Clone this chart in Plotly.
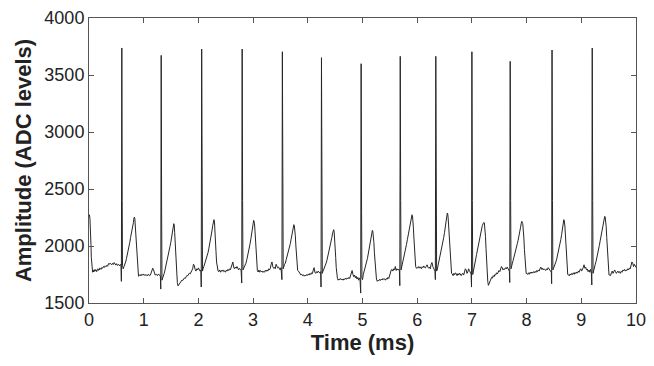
import plotly.graph_objects as go

# ECG-like trace: (time in ms, amplitude in ADC levels)
seg_00 = [(0.000, 2255), (0.006, 2274), (0.012, 2260), (0.018, 2235), (0.024, 2190), (0.030, 2120),
          (0.036, 2010), (0.042, 1900), (0.050, 1815), (0.058, 1778), (0.066, 1770), (0.074, 1785),
          (0.082, 1772), (0.090, 1790), (0.100, 1778), (0.110, 1795), (0.120, 1780), (0.130, 1788),
          (0.140, 1775), (0.150, 1792), (0.160, 1800), (0.170, 1786), (0.180, 1798), (0.190, 1790),
          (0.200, 1808), (0.210, 1800), (0.220, 1795), (0.235, 1812), (0.250, 1805), (0.265, 1820),
          (0.280, 1812), (0.295, 1826), (0.310, 1818), (0.325, 1830), (0.340, 1822), (0.355, 1845),
          (0.370, 1838), (0.385, 1850), (0.400, 1842), (0.415, 1835), (0.430, 1848), (0.445, 1838),
          (0.460, 1855), (0.475, 1842), (0.490, 1832), (0.505, 1845), (0.520, 1830), (0.540, 1838),
          (0.560, 1825), (0.575, 1840), (0.585, 1835)]
seg_01 = [(0.592, 1690), (0.600, 3737), (0.607, 2400), (0.612, 1830), (0.625, 1800), (0.640, 1820),
          (0.655, 1835), (0.670, 1860), (0.685, 1890), (0.700, 1920), (0.715, 1950), (0.730, 1990),
          (0.745, 2030), (0.760, 2075), (0.775, 2110), (0.790, 2135), (0.800, 2172), (0.812, 2205),
          (0.822, 2245), (0.830, 2254), (0.838, 2240), (0.846, 2170), (0.855, 2080), (0.865, 1980),
          (0.875, 1890), (0.885, 1810), (0.895, 1760), (0.905, 1735), (0.920, 1740), (0.935, 1750),
          (0.950, 1738), (0.965, 1752), (0.980, 1745), (0.995, 1755), (1.010, 1742), (1.025, 1750),
          (1.040, 1740), (1.055, 1748), (1.070, 1738), (1.085, 1752), (1.100, 1745), (1.115, 1740),
          (1.130, 1755), (1.150, 1780), (1.165, 1805), (1.180, 1790), (1.195, 1750), (1.210, 1745),
          (1.230, 1752), (1.250, 1740), (1.270, 1755), (1.290, 1748), (1.305, 1735)]
seg_02 = [(1.312, 1622), (1.320, 3672), (1.328, 2300), (1.334, 1700), (1.345, 1712), (1.360, 1735),
          (1.375, 1760), (1.390, 1790), (1.405, 1820), (1.420, 1850), (1.435, 1880), (1.450, 1915),
          (1.465, 1955), (1.480, 1995), (1.495, 2030), (1.510, 2070), (1.525, 2110), (1.540, 2170),
          (1.550, 2196), (1.558, 2185), (1.566, 2120), (1.575, 2030), (1.585, 1920), (1.595, 1810),
          (1.605, 1730), (1.615, 1680), (1.628, 1650), (1.640, 1660), (1.655, 1672), (1.670, 1680),
          (1.685, 1690), (1.700, 1702), (1.715, 1698), (1.730, 1712), (1.745, 1720), (1.760, 1715),
          (1.775, 1730), (1.790, 1742), (1.805, 1738), (1.820, 1750), (1.835, 1762), (1.850, 1755),
          (1.865, 1770), (1.880, 1790), (1.895, 1800), (1.910, 1840), (1.925, 1830), (1.940, 1795),
          (1.955, 1780), (1.970, 1800), (1.985, 1790), (2.000, 1808), (2.015, 1795), (2.030, 1780),
          (2.045, 1790)]
seg_03 = [(2.052, 1640), (2.060, 3728), (2.068, 2400), (2.075, 1780), (2.085, 1800), (2.100, 1820),
          (2.115, 1845), (2.130, 1850), (2.145, 1885), (2.160, 1915), (2.175, 1940), (2.190, 1975),
          (2.205, 2010), (2.220, 2055), (2.235, 2100), (2.250, 2140), (2.262, 2180), (2.274, 2218),
          (2.285, 2231), (2.294, 2210), (2.303, 2150), (2.312, 2060), (2.322, 1950), (2.332, 1860),
          (2.345, 1795), (2.360, 1780), (2.375, 1775), (2.390, 1790), (2.405, 1770), (2.420, 1785),
          (2.435, 1778), (2.450, 1790), (2.465, 1775), (2.480, 1782), (2.495, 1770), (2.510, 1788),
          (2.525, 1780), (2.540, 1795), (2.555, 1785), (2.570, 1800), (2.585, 1792), (2.600, 1810),
          (2.615, 1842), (2.630, 1860), (2.645, 1815), (2.660, 1800), (2.675, 1815), (2.690, 1805),
          (2.705, 1820), (2.720, 1800), (2.735, 1790), (2.750, 1805), (2.765, 1795), (2.780, 1790)]
seg_04 = [(2.792, 1675), (2.800, 3728), (2.808, 2400), (2.815, 1790), (2.825, 1800), (2.840, 1815),
          (2.855, 1840), (2.870, 1850), (2.885, 1880), (2.900, 1910), (2.915, 1940), (2.930, 1980),
          (2.945, 2020), (2.960, 2065), (2.975, 2120), (2.990, 2180), (3.000, 2212), (3.010, 2225),
          (3.018, 2215), (3.026, 2195), (3.035, 2130), (3.045, 2030), (3.055, 1930), (3.065, 1840),
          (3.078, 1785), (3.092, 1772), (3.105, 1790), (3.120, 1770), (3.135, 1785), (3.150, 1775),
          (3.165, 1780), (3.180, 1768), (3.195, 1778), (3.210, 1770), (3.225, 1788), (3.240, 1778),
          (3.255, 1790), (3.270, 1780), (3.285, 1800), (3.300, 1790), (3.315, 1805), (3.330, 1840),
          (3.345, 1860), (3.360, 1820), (3.375, 1805), (3.390, 1812), (3.405, 1800), (3.420, 1840),
          (3.435, 1820), (3.450, 1808), (3.465, 1815), (3.480, 1800), (3.495, 1790), (3.510, 1810)]
seg_05 = [(3.527, 1705), (3.535, 3704), (3.543, 2400), (3.550, 1800), (3.560, 1815), (3.575, 1840),
          (3.590, 1850), (3.605, 1880), (3.620, 1905), (3.635, 1930), (3.650, 1960), (3.665, 1990),
          (3.680, 2020), (3.695, 2060), (3.710, 2100), (3.722, 2135), (3.734, 2175), (3.745, 2187),
          (3.753, 2180), (3.762, 2150), (3.772, 2090), (3.782, 2000), (3.792, 1910), (3.802, 1830),
          (3.815, 1785), (3.830, 1780), (3.845, 1770), (3.860, 1760), (3.875, 1745), (3.890, 1752),
          (3.905, 1740), (3.920, 1748), (3.935, 1735), (3.950, 1745), (3.965, 1738), (3.980, 1750),
          (3.995, 1742), (4.010, 1755), (4.025, 1745), (4.040, 1760), (4.055, 1750), (4.070, 1765),
          (4.085, 1758), (4.100, 1790), (4.115, 1810), (4.130, 1770), (4.145, 1760), (4.160, 1775),
          (4.175, 1765), (4.190, 1780), (4.205, 1770), (4.220, 1762), (4.235, 1775)]
seg_06 = [(4.242, 1640), (4.250, 3652), (4.258, 2300), (4.265, 1760), (4.275, 1775), (4.290, 1790),
          (4.305, 1815), (4.320, 1825), (4.335, 1850), (4.350, 1875), (4.365, 1905), (4.380, 1935),
          (4.395, 1965), (4.410, 2000), (4.425, 2035), (4.440, 2075), (4.455, 2115), (4.466, 2138),
          (4.473, 2143), (4.481, 2130), (4.490, 2080), (4.500, 2000), (4.510, 1900), (4.520, 1810),
          (4.530, 1750), (4.542, 1715), (4.555, 1700), (4.570, 1712), (4.585, 1705), (4.600, 1715),
          (4.615, 1702), (4.630, 1710), (4.645, 1700), (4.660, 1712), (4.675, 1706), (4.690, 1718),
          (4.705, 1708), (4.720, 1720), (4.735, 1712), (4.750, 1725), (4.765, 1715), (4.780, 1740),
          (4.795, 1770), (4.810, 1785), (4.825, 1750), (4.840, 1730), (4.855, 1745), (4.870, 1720),
          (4.885, 1735), (4.900, 1710), (4.915, 1725), (4.930, 1700), (4.945, 1720), (4.955, 1705)]
seg_07 = [(4.967, 1587), (4.975, 3599), (4.983, 2300), (4.990, 1720), (5.000, 1705), (5.015, 1750),
          (5.030, 1775), (5.045, 1800), (5.060, 1830), (5.075, 1850), (5.090, 1890), (5.105, 1930),
          (5.120, 1980), (5.135, 2020), (5.150, 2070), (5.162, 2110), (5.172, 2122), (5.180, 2137),
          (5.188, 2132), (5.198, 2095), (5.208, 2030), (5.218, 1940), (5.230, 1840), (5.242, 1760),
          (5.255, 1710), (5.270, 1690), (5.285, 1700), (5.300, 1695), (5.315, 1708), (5.330, 1698),
          (5.345, 1710), (5.360, 1702), (5.375, 1715), (5.390, 1705), (5.405, 1712), (5.420, 1700),
          (5.435, 1715), (5.450, 1708), (5.465, 1725), (5.480, 1715), (5.495, 1745), (5.510, 1780),
          (5.525, 1790), (5.540, 1795), (5.555, 1780), (5.570, 1800), (5.585, 1790), (5.600, 1820),
          (5.615, 1785), (5.630, 1800), (5.645, 1790), (5.660, 1798), (5.675, 1780)]
seg_08 = [(5.682, 1652), (5.690, 3664), (5.698, 2400), (5.705, 1790), (5.715, 1810), (5.730, 1845),
          (5.745, 1870), (5.760, 1900), (5.775, 1935), (5.790, 1975), (5.805, 2015), (5.820, 2055),
          (5.835, 2095), (5.850, 2135), (5.865, 2180), (5.880, 2225), (5.895, 2260), (5.905, 2274),
          (5.913, 2268), (5.921, 2235), (5.930, 2165), (5.940, 2070), (5.950, 1960), (5.960, 1875),
          (5.972, 1820), (5.985, 1805), (6.000, 1812), (6.015, 1805), (6.030, 1820), (6.045, 1808),
          (6.060, 1815), (6.075, 1800), (6.090, 1818), (6.105, 1810), (6.120, 1825), (6.135, 1812),
          (6.150, 1808), (6.165, 1822), (6.180, 1835), (6.195, 1815), (6.210, 1805), (6.225, 1815),
          (6.240, 1800), (6.255, 1840), (6.270, 1855), (6.285, 1820), (6.300, 1810), (6.315, 1790),
          (6.325, 1780)]
seg_09 = [(6.332, 1705), (6.340, 3664), (6.348, 2300), (6.355, 1780), (6.365, 1790), (6.380, 1825),
          (6.395, 1855), (6.410, 1875), (6.425, 1915), (6.440, 1955), (6.455, 1995), (6.470, 2035),
          (6.485, 2075), (6.500, 2120), (6.515, 2165), (6.528, 2210), (6.540, 2255), (6.550, 2289),
          (6.558, 2282), (6.566, 2245), (6.575, 2180), (6.585, 2085), (6.595, 1980), (6.605, 1880),
          (6.615, 1800), (6.628, 1760), (6.642, 1755), (6.656, 1740), (6.670, 1760), (6.685, 1748),
          (6.700, 1765), (6.715, 1750), (6.730, 1740), (6.745, 1758), (6.760, 1745), (6.775, 1762),
          (6.790, 1750), (6.805, 1740), (6.820, 1755), (6.835, 1760), (6.850, 1745), (6.865, 1770),
          (6.880, 1800), (6.895, 1790), (6.910, 1760), (6.925, 1772), (6.940, 1800), (6.955, 1785),
          (6.970, 1760), (6.985, 1752)]
seg_10 = [(6.993, 1640), (7.000, 3704), (7.008, 2400), (7.015, 1750), (7.025, 1770), (7.040, 1815),
          (7.055, 1850), (7.070, 1885), (7.085, 1925), (7.100, 1965), (7.115, 2005), (7.130, 2050),
          (7.145, 2090), (7.160, 2125), (7.175, 2150), (7.190, 2178), (7.205, 2195), (7.218, 2207),
          (7.228, 2202), (7.238, 2165), (7.248, 2085), (7.258, 1980), (7.268, 1860), (7.278, 1760),
          (7.290, 1690), (7.302, 1655), (7.315, 1672), (7.330, 1690), (7.345, 1710), (7.360, 1725),
          (7.375, 1718), (7.390, 1740), (7.405, 1730), (7.420, 1750), (7.435, 1745), (7.450, 1765),
          (7.465, 1755), (7.480, 1770), (7.495, 1785), (7.510, 1775), (7.525, 1800), (7.540, 1820),
          (7.555, 1810), (7.570, 1790), (7.585, 1800), (7.600, 1795), (7.615, 1810), (7.630, 1800),
          (7.645, 1815), (7.660, 1805), (7.675, 1790), (7.685, 1780)]
seg_11 = [(7.692, 1680), (7.700, 3620), (7.708, 2400), (7.715, 1800), (7.725, 1830), (7.740, 1850),
          (7.755, 1875), (7.770, 1900), (7.785, 1930), (7.800, 1960), (7.815, 1990), (7.830, 2020),
          (7.845, 2050), (7.860, 2080), (7.875, 2120), (7.890, 2165), (7.902, 2200), (7.914, 2216),
          (7.922, 2208), (7.930, 2195), (7.940, 2150), (7.950, 2070), (7.960, 1970), (7.970, 1875),
          (7.980, 1800), (7.992, 1760), (8.005, 1760), (8.020, 1750), (8.035, 1765), (8.050, 1752),
          (8.065, 1770), (8.080, 1760), (8.095, 1772), (8.110, 1762), (8.125, 1775), (8.140, 1765),
          (8.155, 1778), (8.170, 1768), (8.185, 1785), (8.200, 1775), (8.215, 1790), (8.230, 1780),
          (8.245, 1800), (8.260, 1815), (8.275, 1795), (8.290, 1805), (8.305, 1790), (8.320, 1800),
          (8.335, 1792), (8.350, 1785), (8.365, 1800), (8.380, 1790), (8.395, 1810), (8.410, 1800),
          (8.425, 1790), (8.440, 1780), (8.452, 1770)]
seg_12 = [(8.458, 1669), (8.465, 3719), (8.473, 2400), (8.480, 1790), (8.490, 1800), (8.505, 1825),
          (8.520, 1830), (8.535, 1860), (8.550, 1885), (8.565, 1915), (8.580, 1945), (8.595, 1975),
          (8.610, 2015), (8.625, 2055), (8.640, 2100), (8.655, 2145), (8.668, 2190), (8.680, 2231),
          (8.690, 2220), (8.700, 2175), (8.710, 2090), (8.720, 1980), (8.730, 1870), (8.740, 1795),
          (8.752, 1750), (8.765, 1748), (8.780, 1738), (8.795, 1755), (8.810, 1745), (8.825, 1760),
          (8.840, 1750), (8.855, 1765), (8.870, 1752), (8.885, 1768), (8.900, 1758), (8.915, 1772),
          (8.930, 1762), (8.945, 1780), (8.960, 1770), (8.975, 1790), (8.990, 1800), (9.005, 1780),
          (9.020, 1790), (9.035, 1810), (9.050, 1835), (9.065, 1805), (9.080, 1815), (9.095, 1790),
          (9.110, 1798), (9.125, 1775), (9.140, 1790), (9.155, 1770), (9.170, 1795), (9.185, 1760)]
seg_13 = [(9.192, 1658), (9.200, 3737), (9.208, 2400), (9.215, 1760), (9.225, 1790), (9.240, 1815),
          (9.255, 1840), (9.270, 1865), (9.285, 1895), (9.300, 1925), (9.315, 1965), (9.330, 2005),
          (9.345, 2045), (9.360, 2085), (9.375, 2125), (9.390, 2170), (9.405, 2215), (9.418, 2245),
          (9.428, 2260), (9.436, 2256), (9.445, 2230), (9.455, 2170), (9.465, 2075), (9.475, 1960),
          (9.485, 1860), (9.495, 1790), (9.507, 1745), (9.520, 1745), (9.535, 1740), (9.550, 1765),
          (9.565, 1780), (9.580, 1760), (9.595, 1770), (9.610, 1790), (9.625, 1775), (9.640, 1760),
          (9.655, 1772), (9.670, 1780), (9.685, 1765), (9.700, 1775), (9.715, 1760), (9.730, 1778),
          (9.745, 1770), (9.760, 1790), (9.775, 1782), (9.790, 1795), (9.805, 1780), (9.820, 1790),
          (9.835, 1785), (9.850, 1800), (9.865, 1790), (9.880, 1808), (9.895, 1800), (9.910, 1835),
          (9.925, 1860), (9.940, 1850), (9.955, 1820), (9.970, 1840), (9.985, 1815), (10.000, 1812)]

segments = [seg_00, seg_01, seg_02, seg_03, seg_04, seg_05, seg_06,
            seg_07, seg_08, seg_09, seg_10, seg_11, seg_12, seg_13]

time_ms = [t for seg in segments for t, _ in seg]
amplitude = [v for seg in segments for _, v in seg]

x_ticks = [0, 1, 2, 3, 4, 5, 6, 7, 8, 9, 10]
y_ticks = [1500, 2000, 2500, 3000, 3500, 4000]

fig = go.Figure()
fig.add_trace(go.Scatter(
    x=time_ms, y=amplitude, mode="lines",
    line=dict(color="#262626", width=1),
    showlegend=False, hoverinfo="x+y",
))

axis_common = dict(
    showgrid=False, zeroline=False,
    showline=True, linecolor="#555555", linewidth=1,
    mirror="ticks", ticks="inside", ticklen=5, tickwidth=1, tickcolor="#555555",
    tickfont=dict(family="Liberation Sans, Arial, sans-serif", size=18, color="#222222"),
)

fig.update_xaxes(
    range=[0, 10], tickmode="array", tickvals=x_ticks,
    title=dict(text="<b>Time (ms)</b>", standoff=6,
               font=dict(family="Liberation Sans, Arial, sans-serif", size=22, color="#222222")),
    **axis_common,
)
fig.update_yaxes(
    range=[1500, 4000], tickmode="array", tickvals=y_ticks,
    title=dict(text="<b>Amplitude (ADC levels)</b>", standoff=6,
               font=dict(family="Liberation Sans, Arial, sans-serif", size=22, color="#222222")),
    **axis_common,
)

# The page body adds an 8 px offset, so the figure is sized to fit inside the window
fig.update_layout(
    width=646, height=350,
    margin=dict(l=81, r=18, t=10, b=55, autoexpand=False),
    plot_bgcolor="white", paper_bgcolor="white",
)

fig.write_html("out.html")
